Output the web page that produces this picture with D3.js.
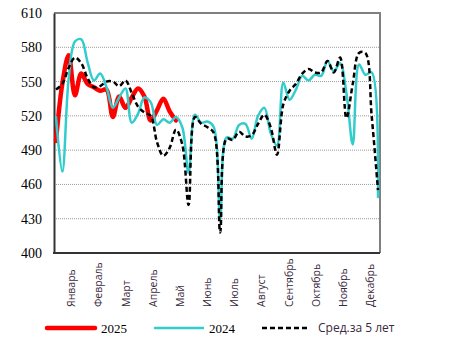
<!DOCTYPE html>
<html>
<head>
<meta charset="utf-8">
<script src="https://cdn.jsdelivr.net/npm/d3@7"></script>
<style>
  body { margin: 0; background: #fff; }
</style>
</head>
<body>
<div id="chart"></div>
<script>
const months = ["Январь", "Февраль", "Март", "Апрель", "Май", "Июнь",
    "Июль", "Август", "Сентябрь", "Октябрь", "Ноябрь", "Декабрь"];
const yTicks = [400, 430, 460, 490, 520, 550, 580, 610];

// weekly values
const v2025 = [498, 548, 573, 538, 557, 548, 545, 542, 543, 519,
    537, 527, 536, 544, 537, 516, 525, 535, 524, 516];
const v2024 = [519, 471, 552, 585, 587, 567, 551, 557, 545, 527,
    536, 544, 514, 522, 536, 532, 512, 517, 514, 519,
    510, 470, 521, 514, 515, 510, 429, 501, 500, 512,
    513, 500, 520, 527, 505, 494, 549, 534, 543, 555,
    551, 556, 555, 568, 559, 566, 540, 495, 565, 556,
    558, 449];
const vAvg5 = [543, 548, 562, 571, 566, 553, 545, 546, 550, 550,
    546, 551, 540, 528, 523, 520, 497, 485, 492, 508,
    495, 442, 519, 513, 510, 505, 418, 500, 499, 506,
    502, 503, 513, 521, 510, 486, 530, 542, 548, 557,
    561, 558, 558, 568, 558, 571, 518, 548, 575, 575,
    520, 455];

const series = [
    {name: "2025", values: v2025, color: "#ff0000", width: 4.5, dash: null},
    {name: "2024", values: v2024, color: "#33cccc", width: 2.5, dash: null},
    {name: "Сред.за 5 лет", values: vAvg5, color: "#000000", width: 2.5, dash: "5,3"}
];

const W = 449, H = 353;
const pl = 54, pr = 380, pt = 13, pb = 253;

const svg = d3.select("#chart").append("svg")
    .attr("width", W)
    .attr("height", H);

const x = d3.scaleLinear().domain([1, 52]).range([pl + 2, pr - 2]);
const xm = d3.scaleBand().domain(months).range([pl + 4, pr + 4]);
const y = d3.scaleLinear().domain([400, 610]).range([pb, pt]);

// grid
svg.append("g")
    .selectAll("line")
    .data(yTicks.filter(d => d > 400 && d < 610))
    .enter().append("line")
    .attr("x1", pl).attr("x2", pr)
    .attr("y1", d => y(d)).attr("y2", d => y(d))
    .attr("stroke", "#9a9a9a")
    .attr("stroke-width", 1)
    .attr("stroke-dasharray", "1,1");

// frame
svg.append("path")
    .attr("d", `M${pl},${pt}H${pr}V${pb}`)
    .attr("fill", "none")
    .attr("stroke", "#808080")
    .attr("stroke-width", 2);

// y axis
const yAxis = svg.append("g")
    .attr("transform", "translate(" + pl + ",0)")
    .call(d3.axisLeft(y).tickValues(yTicks).tickSize(0).tickPadding(12));
yAxis.select(".domain").attr("stroke", "#333").attr("stroke-width", 2);
yAxis.selectAll("text")
    .attr("font-family", "Liberation Serif, Times New Roman, serif")
    .attr("font-size", "14px")
    .attr("fill", "#000");

// x axis
svg.append("line")
    .attr("x1", pl - 1).attr("x2", pr)
    .attr("y1", pb).attr("y2", pb)
    .attr("stroke", "#333").attr("stroke-width", 2);

svg.append("g")
    .selectAll("text")
    .data(months)
    .enter().append("text")
    .attr("transform", d => "translate(" + (xm(d) + xm.bandwidth() / 2) + ",307) rotate(-90)")
    .attr("dy", "0.35em")
    .attr("text-anchor", "start")
    .attr("font-family", "Open Sans, sans-serif")
    .attr("font-size", "10.5px")
    .attr("fill", "#3a2a40")
    .text(d => d);

// lines
const line = d3.line()
    .x((d, i) => x(i + 1))
    .y(d => y(d))
    .curve(d3.curveCatmullRom.alpha(0.5));

svg.append("g")
    .selectAll("path")
    .data(series)
    .enter().append("path")
    .attr("d", d => line(d.values))
    .attr("fill", "none")
    .attr("stroke", d => d.color)
    .attr("stroke-width", d => d.width)
    .attr("stroke-dasharray", d => d.dash)
    .attr("stroke-linejoin", "round")
    .attr("stroke-linecap", d => d.dash ? "butt" : "round");

// legend
const legendX = [47, 155, 262];
const leg = svg.append("g")
    .selectAll("g")
    .data(series)
    .enter().append("g")
    .attr("transform", (d, i) => "translate(" + legendX[i] + ",328)");

leg.append("line")
    .attr("x1", 0).attr("x2", 48)
    .attr("stroke", d => d.color)
    .attr("stroke-width", d => d.width)
    .attr("stroke-dasharray", d => d.dash)
    .attr("stroke-linecap", d => d.dash ? "butt" : "round");

leg.append("text")
    .attr("x", (d, i) => i == 2 ? 56 : 54)
    .attr("dy", "0.35em")
    .attr("font-family", (d, i) => i == 2 ? "Open Sans, sans-serif" : "Liberation Serif, serif")
    .attr("font-size", (d, i) => i == 2 ? "12px" : "13px")
    .attr("fill", (d, i) => i == 2 ? "#3a2a40" : "#000")
    .text(d => d.name);
</script>
</body>
</html>
